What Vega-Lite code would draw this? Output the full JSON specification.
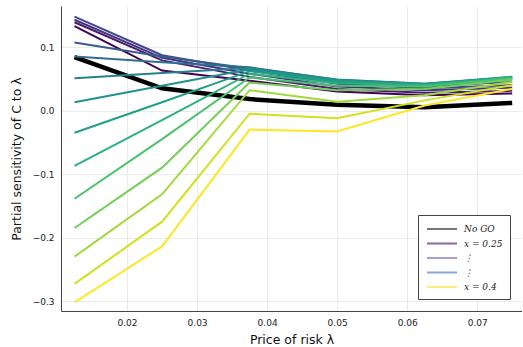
{
  "$schema": "https://vega.github.io/schema/vega-lite/v6.json",
  "width": 461,
  "height": 305,
  "padding": {"top": 6, "left": 10, "right": 0, "bottom": 0},
  "autosize": {"type": "pad"},
  "background": "white",
  "config": {
    "view": {"stroke": null},
    "font": "DejaVu Sans",
    "axis": {
      "domainColor": "#444444",
      "domainWidth": 1,
      "gridColor": "#e6e6e6",
      "gridWidth": 0.8,
      "ticks": false,
      "labelFont": "DejaVu Sans",
      "labelFontSize": 9,
      "labelColor": "#222222",
      "titleFont": "DejaVu Sans",
      "titleFontSize": 12.5,
      "titleFontWeight": "normal",
      "titleColor": "#111111"
    },
    "legend": {
      "orient": "bottom-right",
      "offset": 12,
      "padding": 7,
      "strokeColor": "#444444",
      "fillColor": "white",
      "symbolType": "M-2.5,0H2.5",
      "symbolSize": 144,
      "symbolStrokeWidth": 2,
      "symbolOpacity": 1,
      "symbolOffset": 10,
      "labelFont": "DejaVu Serif",
      "labelFontStyle": "italic",
      "labelFontSize": 9,
      "labelColor": "#222222",
      "rowPadding": 2.5,
      "labelOffset": 15
    }
  },
  "datasets": {
    "curves": [
      {"p": 0.25, "lam": 0.0125, "s": 0.133}, {"p": 0.25, "lam": 0.025, "s": 0.063}, {"p": 0.25, "lam": 0.0375, "s": 0.047}, {"p": 0.25, "lam": 0.05, "s": 0.030}, {"p": 0.25, "lam": 0.0625, "s": 0.024}, {"p": 0.25, "lam": 0.075, "s": 0.027},
      {"p": 0.26, "lam": 0.0125, "s": 0.139}, {"p": 0.26, "lam": 0.025, "s": 0.079}, {"p": 0.26, "lam": 0.0375, "s": 0.053}, {"p": 0.26, "lam": 0.05, "s": 0.034}, {"p": 0.26, "lam": 0.0625, "s": 0.028}, {"p": 0.26, "lam": 0.075, "s": 0.031},
      {"p": 0.27, "lam": 0.0125, "s": 0.143}, {"p": 0.27, "lam": 0.025, "s": 0.083}, {"p": 0.27, "lam": 0.0375, "s": 0.058}, {"p": 0.27, "lam": 0.05, "s": 0.038}, {"p": 0.27, "lam": 0.0625, "s": 0.032}, {"p": 0.27, "lam": 0.075, "s": 0.036},
      {"p": 0.28, "lam": 0.0125, "s": 0.148}, {"p": 0.28, "lam": 0.025, "s": 0.087}, {"p": 0.28, "lam": 0.0375, "s": 0.063}, {"p": 0.28, "lam": 0.05, "s": 0.042}, {"p": 0.28, "lam": 0.0625, "s": 0.035}, {"p": 0.28, "lam": 0.075, "s": 0.040},
      {"p": 0.29, "lam": 0.0125, "s": 0.107}, {"p": 0.29, "lam": 0.025, "s": 0.085}, {"p": 0.29, "lam": 0.0375, "s": 0.066}, {"p": 0.29, "lam": 0.05, "s": 0.045}, {"p": 0.29, "lam": 0.0625, "s": 0.038}, {"p": 0.29, "lam": 0.075, "s": 0.045},
      {"p": 0.30, "lam": 0.0125, "s": 0.085}, {"p": 0.30, "lam": 0.025, "s": 0.076}, {"p": 0.30, "lam": 0.0375, "s": 0.068}, {"p": 0.30, "lam": 0.05, "s": 0.048}, {"p": 0.30, "lam": 0.0625, "s": 0.041}, {"p": 0.30, "lam": 0.075, "s": 0.049},
      {"p": 0.31, "lam": 0.0125, "s": 0.051}, {"p": 0.31, "lam": 0.025, "s": 0.059}, {"p": 0.31, "lam": 0.0375, "s": 0.067}, {"p": 0.31, "lam": 0.05, "s": 0.049}, {"p": 0.31, "lam": 0.0625, "s": 0.042}, {"p": 0.31, "lam": 0.075, "s": 0.052},
      {"p": 0.32, "lam": 0.0125, "s": 0.013}, {"p": 0.32, "lam": 0.025, "s": 0.039}, {"p": 0.32, "lam": 0.0375, "s": 0.065}, {"p": 0.32, "lam": 0.05, "s": 0.048}, {"p": 0.32, "lam": 0.0625, "s": 0.042}, {"p": 0.32, "lam": 0.075, "s": 0.053},
      {"p": 0.33, "lam": 0.0125, "s": -0.035}, {"p": 0.33, "lam": 0.025, "s": 0.013}, {"p": 0.33, "lam": 0.0375, "s": 0.062}, {"p": 0.33, "lam": 0.05, "s": 0.046}, {"p": 0.33, "lam": 0.0625, "s": 0.041}, {"p": 0.33, "lam": 0.075, "s": 0.053},
      {"p": 0.34, "lam": 0.0125, "s": -0.087}, {"p": 0.34, "lam": 0.025, "s": -0.015}, {"p": 0.34, "lam": 0.0375, "s": 0.058}, {"p": 0.34, "lam": 0.05, "s": 0.043}, {"p": 0.34, "lam": 0.0625, "s": 0.040}, {"p": 0.34, "lam": 0.075, "s": 0.052},
      {"p": 0.35, "lam": 0.0125, "s": -0.139}, {"p": 0.35, "lam": 0.025, "s": -0.045}, {"p": 0.35, "lam": 0.0375, "s": 0.052}, {"p": 0.35, "lam": 0.05, "s": 0.039}, {"p": 0.35, "lam": 0.0625, "s": 0.038}, {"p": 0.35, "lam": 0.075, "s": 0.051},
      {"p": 0.36, "lam": 0.0125, "s": -0.185}, {"p": 0.36, "lam": 0.025, "s": -0.090}, {"p": 0.36, "lam": 0.0375, "s": 0.044}, {"p": 0.36, "lam": 0.05, "s": 0.032}, {"p": 0.36, "lam": 0.0625, "s": 0.034}, {"p": 0.36, "lam": 0.075, "s": 0.049},
      {"p": 0.37, "lam": 0.0125, "s": -0.230}, {"p": 0.37, "lam": 0.025, "s": -0.132}, {"p": 0.37, "lam": 0.0375, "s": 0.032}, {"p": 0.37, "lam": 0.05, "s": 0.014}, {"p": 0.37, "lam": 0.0625, "s": 0.024}, {"p": 0.37, "lam": 0.075, "s": 0.045},
      {"p": 0.38, "lam": 0.0125, "s": -0.273}, {"p": 0.38, "lam": 0.025, "s": -0.175}, {"p": 0.38, "lam": 0.0375, "s": -0.005}, {"p": 0.38, "lam": 0.05, "s": -0.012}, {"p": 0.38, "lam": 0.0625, "s": 0.016}, {"p": 0.38, "lam": 0.075, "s": 0.040},
      {"p": 0.39, "lam": 0.0125, "s": -0.302}, {"p": 0.39, "lam": 0.025, "s": -0.214}, {"p": 0.39, "lam": 0.0375, "s": -0.030}, {"p": 0.39, "lam": 0.05, "s": -0.033}, {"p": 0.39, "lam": 0.0625, "s": 0.008}, {"p": 0.39, "lam": 0.075, "s": 0.034}
    ],
    "nogo": [
      {"lam": 0.0125, "s": 0.084}, {"lam": 0.025, "s": 0.035}, {"lam": 0.0375, "s": 0.018}, {"lam": 0.05, "s": 0.009}, {"lam": 0.0625, "s": 0.005}, {"lam": 0.075, "s": 0.012}
    ],
    "legendkeys": [
      {"k": "k1"}, {"k": "k2"}, {"k": "k3"}, {"k": "k4"}, {"k": "k5"}
    ]
  },
  "encoding": {
    "x": {
      "field": "lam", "type": "quantitative",
      "scale": {"domain": [0.01057, 0.0764], "nice": false, "zero": false},
      "axis": {"values": [0.02, 0.03, 0.04, 0.05, 0.06, 0.07], "format": ".2f", "labelPadding": 7, "titlePadding": 6, "title": "Price of risk λ"}
    },
    "y": {
      "field": "s", "type": "quantitative",
      "scale": {"domain": [-0.3157, 0.1646], "nice": false, "zero": false},
      "axis": {"values": [-0.3, -0.2, -0.1, 0, 0.1], "format": ".1f", "labelPadding": 7, "titlePadding": 9, "title": "Partial sensitivity of C to λ"}
    }
  },
  "layer": [
    {
      "data": {"name": "nogo"},
      "mark": {"type": "line", "color": "black", "strokeWidth": 4.5}
    },
    {
      "data": {"name": "curves"},
      "mark": {"type": "line", "strokeWidth": 2},
      "encoding": {
        "detail": {"field": "p", "type": "nominal"},
        "color": {"field": "p", "type": "quantitative", "scale": {"scheme": "viridis", "domain": [0.25, 0.39]}, "legend": null}
      }
    },
    {
      "mark": {"type": "rule", "color": "#555555", "strokeWidth": 1.3, "strokeDash": [6, 4]},
      "encoding": {"y": {"datum": 0, "type": "quantitative"}, "x": null}
    },
    {
      "data": {"name": "legendkeys"},
      "mark": {"type": "line", "opacity": 0},
      "encoding": {
        "x": null,
        "y": null,
        "color": {
          "field": "k", "type": "nominal",
          "scale": {"domain": ["k1", "k2", "k3", "k4", "k5"], "range": ["#777777", "#8a68a3", "#aaa0cf", "#86a6d6", "#f8ef78"]},
          "legend": {"title": null, "symbolOpacity": 1, "labelExpr": "datum.value == 'k1' ? 'No GO' : datum.value == 'k2' ? 'x = 0.25' : datum.value == 'k5' ? 'x = 0.4' : '⋮'"}
        }
      }
    }
  ],
  "resolve": {"scale": {"color": "independent"}}
}
